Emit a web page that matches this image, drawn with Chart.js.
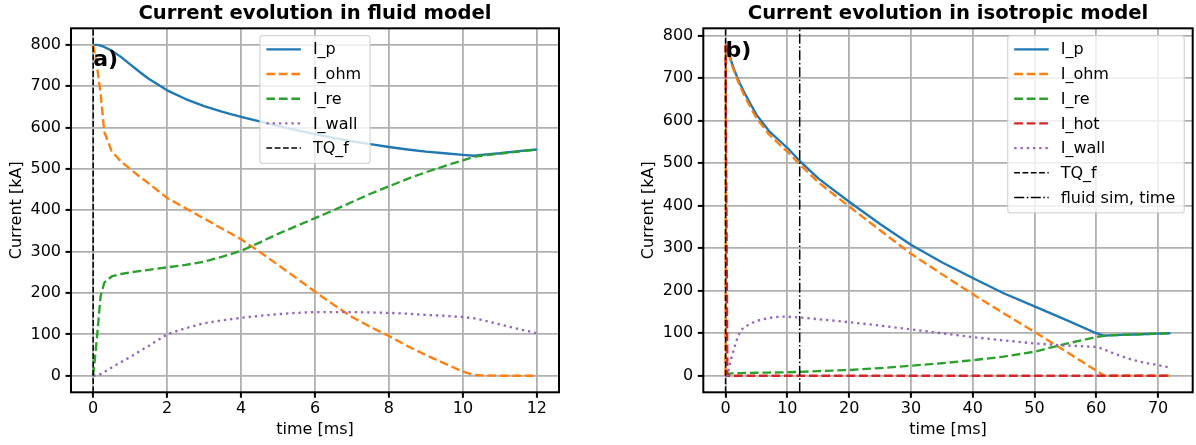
<!DOCTYPE html>
<html><head><meta charset="utf-8">
<script src="https://cdn.jsdelivr.net/npm/chart.js@4/dist/chart.umd.min.js"></script>
<style>
html,body{margin:0;padding:0;background:#fff;}
#wrap{position:relative;width:1196px;height:445px;overflow:hidden;background:#fff;}
#cA{position:absolute;left:0;top:0;width:598px;height:445px;}
#cB{position:absolute;left:632px;top:0;width:564px;height:445px;}
</style></head><body>
<div id="wrap"><canvas id="cA" width="598" height="445"></canvas><canvas id="cB" width="564" height="445"></canvas></div>
<script>
// ---------------- data: fluid model (panel a) ----------------
const fluidTitle = 'Current evolution in fluid model';
const fluidTime = [0, 0.1, 0.2, 0.3, 0.5, 0.75, 1, 1.25, 1.5, 2, 2.5, 3, 3.5, 4, 4.5, 5, 5.5, 6, 6.5, 7, 7.5, 8, 8.5, 9, 9.5, 10, 10.3, 10.5, 11, 11.5, 12];
const fluidIp   = [800, 800, 798, 795, 786, 771, 753, 735, 718, 690, 669, 652, 638, 626, 615, 604, 594, 584, 575, 567, 560, 553, 547, 542, 538, 534, 532, 534, 538, 543, 547];
const fluidIohm = [800, 752, 683, 590, 543, 518, 500, 482, 465, 430, 405, 380, 355, 330, 300, 268, 236, 203, 172, 142, 118, 96, 72, 50, 30, 10, 2, 1, 0, 0, 0];
const fluidIre  = [0, 90, 192, 225, 240, 246, 250, 253, 256, 262, 268, 276, 288, 302, 322, 343, 362, 381, 400, 420, 440, 458, 476, 492, 507, 521, 529, 532, 537, 542, 547];
const fluidIwall= [0, 1, 4, 9, 20, 33, 45, 59, 72, 100, 115, 127, 134, 140, 145, 149, 152, 154, 154, 154, 153, 152, 150, 147, 145, 142, 139, 135, 124, 113, 103];
const fluidTQ = 0;
const fluidXTicks = [0, 2, 4, 6, 8, 10, 12];
const fluidYTicks = [0, 100, 200, 300, 400, 500, 600, 700, 800];
const fluidXLim = [-0.6, 12.6];
const fluidYLim = [-40, 840];

// ---------------- data: isotropic model (panel b) ----------------
const isoTitle = 'Current evolution in isotropic model';
const isoTime  = [0, 0.05, 0.3, 0.5, 1, 1.5, 2, 2.5, 3, 4, 5, 7, 9, 10, 12, 15, 20, 25, 30, 35, 40, 45, 50, 55, 60, 61.3, 62, 64, 66, 68, 70, 72];
const isoIp    = [778, 778, 771, 761, 736, 716, 698, 682, 667, 640, 614, 576, 549, 536, 505, 464, 409, 357, 308, 267, 230, 194, 163, 132, 100, 94, 95, 96, 97, 98, 99, 100];
const isoIohm  = [0, 776, 768, 758, 731, 711, 693, 676, 660, 632, 606, 568, 540, 527, 497, 455, 398, 342, 287, 239, 192, 147, 103, 58, 12, 0, 0, 0, 0, 0, 0, 0];
const isoIre   = [0, 0, 3, 4.5, 5.5, 5.8, 6, 6.2, 6.4, 6.7, 7, 7.5, 8, 8.3, 9, 11, 13.5, 18, 23.5, 29.5, 36.5, 45, 56.5, 75, 91, 94, 95, 96, 97, 98, 99, 100];
const isoIhot  = [778, 648, 0, 0, 0, 0, 0, 0, 0, 0, 0, 0, 0, 0, 0, 0, 0, 0, 0, 0, 0, 0, 0, 0, 0, 0, 0, 0, 0, 0, 0, 0];
const isoIwall = [0, 0, 1, 15, 45, 70, 92, 107, 114, 122, 129, 136, 139, 139, 137, 133, 126, 118, 109, 100, 91, 83, 76, 71, 68, 62, 57, 46, 37, 30, 25, 19];
const isoTQ = 0;
const isoFluidSimTime = 12;
const isoXTicks = [0, 10, 20, 30, 40, 50, 60, 70];
const isoYTicks = [0, 100, 200, 300, 400, 500, 600, 700, 800];
const isoXLim = [-3.6, 75.6];
const isoYLim = [-38.9, 816.9];

// ---------------- styles ----------------
const FONT = "'DejaVu Sans', sans-serif";
Chart.defaults.font.family = FONT;
const C = {blue:'#1f77b4', orange:'#ff7f0e', green:'#2ca02c', red:'#d62728', purple:'#9467bd', black:'#000000'};
const LW = 2.35;
const DASH = [8.7, 3.8];
const DOT = [2.35, 3.9];
const TQDASH = [5.8, 2.5];
const DASHDOT = [10, 2.5, 1.6, 2.5];
const TXT = 16;

function pts(xs, ys) { return xs.map((x, i) => ({x: x, y: ys[i]})); }
function vline(x, ylim) { return [{x: x, y: ylim[0]}, {x: x, y: ylim[1]}]; }
function ds(label, data, color, dash, width, order) {
  return {label, data, borderColor: color, backgroundColor: color, borderDash: dash, borderWidth: width,
          pointRadius: 0, fill: false, tension: 0, borderJoinStyle: 'round', borderCapStyle: 'butt', order};
}

const decor = {
  id: 'decor',
  afterDraw(chart, args, opts) {
    const ctx = chart.ctx, a = chart.chartArea;
    const xs = chart.scales.x, ys = chart.scales.y;
    ctx.save();
    // panel label
    ctx.font = `bold 22px ${FONT}`;
    ctx.fillStyle = '#000'; ctx.textAlign = 'left'; ctx.textBaseline = 'alphabetic';
    ctx.fillText(opts.panel, xs.getPixelForValue(opts.panelPos[0]), ys.getPixelForValue(opts.panelPos[1]));
    // frame
    ctx.strokeStyle = '#000'; ctx.lineWidth = 2; ctx.setLineDash([]);
    ctx.strokeRect(a.left, a.top, a.right - a.left, a.bottom - a.top);
    // legend
    ctx.font = `${TXT}px ${FONT}`;
    const items = chart.data.datasets;
    const tw = Math.max(...items.map(d => ctx.measureText(d.label).width));
    const w = 53 + tw + 9, h = items.length * 24.7 + 4.2;
    const bx = opts.loc === 'upper center' ? (a.left + a.right) / 2 - w / 2 : a.right - 8.4 - w;
    const by = a.top + 7.4;
    ctx.beginPath();
    ctx.roundRect(bx, by, w, h, 3);
    ctx.fillStyle = 'rgba(255,255,255,0.8)'; ctx.fill();
    ctx.strokeStyle = 'rgba(204,204,204,0.8)'; ctx.lineWidth = 1.2; ctx.stroke();
    items.forEach((d, i) => {
      const y = by + 13.6 + i * 24.7;
      ctx.beginPath(); ctx.setLineDash(d.borderDash || []);
      ctx.strokeStyle = d.borderColor; ctx.lineWidth = d.borderWidth; ctx.lineCap = 'butt';
      ctx.moveTo(bx + 6.5, y); ctx.lineTo(bx + 41, y); ctx.stroke();
      ctx.setLineDash([]);
      ctx.fillStyle = '#000'; ctx.textAlign = 'left'; ctx.textBaseline = 'middle';
      ctx.fillText(d.label, bx + 53, y + 1);
    });
    ctx.restore();
  }
};

function scales(xTicks, yTicks, xLim, yLim, yWidth) {
  const grid = {color: '#b0b0b0', lineWidth: 1.8, tickLength: 5.5, tickColor: '#000', tickWidth: 2, drawTicks: true};
  return {
    x: {
      type: 'linear', min: xLim[0], max: xLim[1],
      afterBuildTicks: s => { s.ticks = xTicks.map(v => ({value: v})); },
      afterFit: s => { s.height = 52.7; },
      ticks: {color: '#000', font: {size: TXT}, padding: 1.5, maxRotation: 0, autoSkip: false, callback: v => String(v)},
      grid: grid, border: {display: false},
      title: {display: true, text: 'time [ms]', color: '#000', font: {size: TXT}, padding: {top: 0, bottom: 5.2}}
    },
    y: {
      type: 'linear', min: yLim[0], max: yLim[1],
      afterBuildTicks: s => { s.ticks = yTicks.map(v => ({value: v})); },
      afterFit: s => { s.width = yWidth; },
      ticks: {color: '#000', font: {size: TXT}, padding: 4.5, autoSkip: false, callback: v => String(v)},
      grid: grid, border: {display: false},
      title: {display: true, text: 'Current [kA]', color: '#000', font: {size: TXT}, padding: {top: 7.2, bottom: 0}}
    }
  };
}

function titleOpt(text) {
  return {display: true, text: text, color: '#000', fullSize: false, font: {size: 19.6, weight: 'bold', lineHeight: 1.2}, padding: {top: 2.5, bottom: 2.3}};
}

new Chart(document.getElementById('cA'), {
  type: 'line',
  data: {datasets: [
    ds('I_p', pts(fluidTime, fluidIp), C.blue, [], LW, 5),
    ds('I_ohm', pts(fluidTime, fluidIohm), C.orange, DASH, LW, 4),
    ds('I_re', pts(fluidTime, fluidIre), C.green, DASH, LW, 3),
    ds('I_wall', pts(fluidTime, fluidIwall), C.purple, DOT, LW, 2),
    ds('TQ_f', vline(fluidTQ, fluidYLim), C.black, TQDASH, 1.5, 1)
  ]},
  options: {
    responsive: false, animation: false, devicePixelRatio: 1,
    layout: {padding: {left: 0, right: 39, top: 0, bottom: 0}},
    scales: scales(fluidXTicks, fluidYTicks, fluidXLim, fluidYLim, 71),
    plugins: {legend: {display: false}, tooltip: {enabled: false}, title: titleOpt(fluidTitle),
      decor: {panel: 'a)', panelPos: [0, 750], loc: 'upper center'}}
  },
  plugins: [decor]
});

new Chart(document.getElementById('cB'), {
  type: 'line',
  data: {datasets: [
    ds('I_p', pts(isoTime, isoIp), C.blue, [], LW, 7),
    ds('I_ohm', pts(isoTime, isoIohm), C.orange, DASH, LW, 6),
    ds('I_re', pts(isoTime, isoIre), C.green, DASH, LW, 5),
    ds('I_hot', pts(isoTime, isoIhot), C.red, DASH, LW, 4),
    ds('I_wall', pts(isoTime, isoIwall), C.purple, DOT, LW, 3),
    ds('TQ_f', vline(isoTQ, isoYLim), C.black, TQDASH, 1.5, 2),
    ds('fluid sim, time', vline(isoFluidSimTime, isoYLim), C.black, DASHDOT, 1.5, 1)
  ]},
  options: {
    responsive: false, animation: false, devicePixelRatio: 1,
    layout: {padding: {left: 0, right: 3.3, top: 0, bottom: 0}},
    scales: scales(isoXTicks, isoYTicks, isoXLim, isoYLim, 71.3),
    plugins: {legend: {display: false}, tooltip: {enabled: false}, title: titleOpt(isoTitle),
      decor: {panel: 'b)', panelPos: [0, 750], loc: 'upper right'}}
  },
  plugins: [decor]
});
</script>
</body></html>
